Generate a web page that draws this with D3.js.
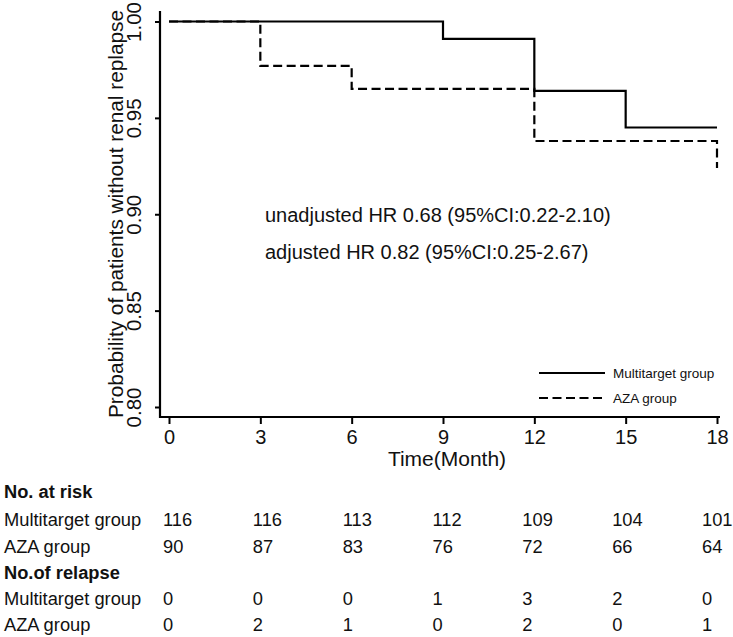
<!DOCTYPE html>
<html>
<head>
<meta charset="utf-8">
<script src="https://cdn.jsdelivr.net/npm/d3@7"></script>
<style>
  html, body { margin: 0; padding: 0; background: #fff; }
  svg { display: block; font-family: "Liberation Sans", Arial, Helvetica, sans-serif; }
</style>
</head>
<body>
<svg id="chart" width="733" height="637"></svg>
<script>
// ---- data ----
const timeTicks = [0, 3, 6, 9, 12, 15, 18];
const yTicks = [0.80, 0.85, 0.90, 0.95, 1.00];
const multiTimes = [0, 9, 12, 15, 18];
const multiSurv  = [1.0, 0.991, 0.964, 0.945, 0.945];
const azaTimes = [0, 3, 6, 12, 18];
const azaSurv  = [1.0, 0.977, 0.965, 0.938, 0.924];
const groups = ["Multitarget group", "AZA group"];
const atRiskMulti = [116, 116, 113, 112, 109, 104, 101];
const atRiskAza   = [90, 87, 83, 76, 72, 66, 64];
const relapseMulti = [0, 0, 0, 1, 3, 2, 0];
const relapseAza   = [0, 2, 1, 0, 2, 0, 1];
const annotations = ["unadjusted HR 0.68 (95%CI:0.22-2.10)", "adjusted HR 0.82 (95%CI:0.25-2.67)"];

const svg = d3.select("#chart");
const x = d3.scaleLinear().domain([0, 18]).range([169, 717]);
const y = d3.scaleLinear().domain([0.80, 1.00]).range([407, 21.5]);
const colX = d3.scaleLinear().domain([0, 18]).range([163, 702]);

// axes
const xAxis = d3.axisBottom(x).tickValues(timeTicks).tickSize(7).tickPadding(6).tickSizeOuter(0);
const gx = svg.append("g").attr("transform", "translate(0,417)").call(xAxis);
gx.select(".domain").attr("d", "M160,0H720").attr("stroke", "#000").attr("stroke-width", 2.2);
gx.selectAll(".tick line").attr("stroke", "#000").attr("stroke-width", 2);
gx.selectAll(".tick text").attr("font-size", 20).attr("fill", "#111")
  .attr("font-family", "Liberation Sans, Arial, sans-serif");

const yAxis = d3.axisLeft(y).tickValues(yTicks).tickFormat(d3.format(".2f")).tickSize(5).tickSizeOuter(0);
const gy = svg.append("g").attr("transform", "translate(160,0)").call(yAxis);
gy.select(".domain").attr("d", "M0,11V418").attr("stroke", "#000").attr("stroke-width", 2.2);
gy.selectAll(".tick line").attr("stroke", "#000").attr("stroke-width", 2);
gy.selectAll(".tick text")
  .attr("font-size", 20.5).attr("fill", "#111")
  .attr("font-family", "Liberation Sans, Arial, sans-serif")
  .attr("x", null).attr("dy", null)
  .attr("text-anchor", "middle")
  .attr("transform", "translate(-19,0) rotate(-90)");

// axis titles
svg.append("text").attr("x", 447).attr("y", 466).attr("text-anchor", "middle")
  .attr("font-size", 21).attr("fill", "#111").text("Time(Month)");
svg.append("text").attr("transform", "translate(123,214) rotate(-90)").attr("text-anchor", "middle")
  .attr("font-size", 20.8).attr("fill", "#111").text("Probability of patients without renal replapse");

// curves
const line = d3.line().x(d => x(d[0])).y(d => y(d[1])).curve(d3.curveStepAfter);
svg.append("path").datum(multiTimes.map((t, i) => [t, multiSurv[i]]))
  .attr("d", line).attr("fill", "none").attr("stroke", "#000").attr("stroke-width", 2.2);
svg.append("path").datum(azaTimes.map((t, i) => [t, azaSurv[i]]))
  .attr("d", line).attr("fill", "none").attr("stroke", "#000").attr("stroke-width", 2.2)
  .attr("stroke-dasharray", "9,4.5");

// annotations
svg.selectAll("text.ann").data(annotations).enter().append("text")
  .attr("class", "ann").attr("x", 265).attr("y", (d, i) => 222 + i * 37)
  .attr("font-size", 20).attr("fill", "#111").text(d => d);

// legend
const legend = svg.append("g");
groups.forEach((g, i) => {
  const ly = 373 + i * 25;
  legend.append("line").attr("x1", 539).attr("x2", 605).attr("y1", ly).attr("y2", ly)
    .attr("stroke", "#000").attr("stroke-width", 2.2)
    .attr("stroke-dasharray", i === 1 ? "9,4.5" : null);
  legend.append("text").attr("x", 613).attr("y", ly + 5).attr("font-size", 13.5)
    .attr("fill", "#111").text(g);
});

// risk table
const table = svg.append("g").attr("font-size", 18.3).attr("fill", "#111");
const rows = [
  {label: "No. at risk", bold: true, y: 498, vals: null},
  {label: groups[0], y: 526, vals: atRiskMulti},
  {label: groups[1], y: 553, vals: atRiskAza},
  {label: "No.of relapse", bold: true, y: 579, vals: null},
  {label: groups[0], y: 605, vals: relapseMulti},
  {label: groups[1], y: 631, vals: relapseAza}
];
rows.forEach(r => {
  table.append("text").attr("x", 4).attr("y", r.y)
    .attr("font-weight", r.bold ? "bold" : "normal").text(r.label);
  if (r.vals) {
    table.selectAll(null).data(r.vals).enter().append("text")
      .attr("x", (d, i) => colX(timeTicks[i])).attr("y", r.y).text(d => d);
  }
});
</script>
</body>
</html>
